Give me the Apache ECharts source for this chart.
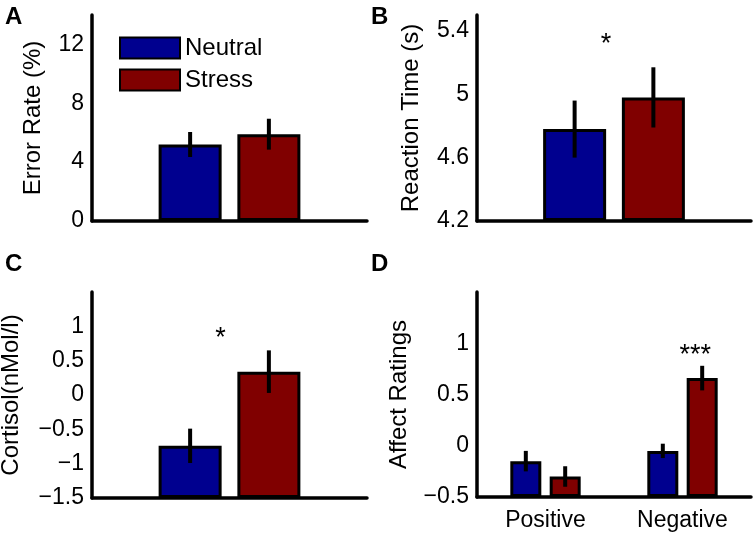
<!DOCTYPE html>
<html>
<head>
<meta charset="utf-8">
<script src="https://cdn.jsdelivr.net/npm/echarts@6/dist/echarts.min.js"></script>
<style>html,body{margin:0;padding:0;background:#fff}#main{width:756px;height:537px}</style>
</head>
<body>
<div id="main"></div>
<script>
var groups = ['Neutral', 'Stress'];
var colors = ['#00008f', '#800000'];

// A: error rate (%)
var errMean = [5.2, 5.9];
var errSE = [0.85, 1.05];
var errTicks = [0, 4, 8, 12];

// B: reaction time (s)
var rtMean = [4.78, 4.98];
var rtSE = [0.18, 0.19];
var rtTicks = [4.2, 4.6, 5, 5.4];

// C: cortisol
var cortMean = [-0.74, 0.34];
var cortSE = [0.25, 0.31];
var cortTicks = [-1.5, -1, -0.5, 0, 0.5, 1];

// D: affect ratings
var affectCats = ['Positive', 'Negative'];
var affNeutral = [-0.15, -0.05];
var affNeutralSE = [0.1, 0.07];
var affStress = [-0.30, 0.66];
var affStressSE = [0.1, 0.12];
var affectTicks = [-0.5, 0, 0.5, 1];

// significance marks
var sigText = ['*', '*', '***'];
var sigY = [5.35, 0.91, 0.94];

var font = '"Liberation Sans", Arial, Helvetica, sans-serif';
var myChart = echarts.init(document.getElementById('main'));

var wide = 63, wideGap = 0.25;   // panels A-C
var thin = 31, thinGap = 0.27;   // panel D
var offWide = wide * (1 + wideGap) / 2;
var offThin = thin * (1 + thinGap) / 2;

function fmt(v) {
    return String(Math.round(v * 100) / 100).replace('-', '\u2212');
}

function yAx(i, name, min, max, ticks, gap) {
    return {
        type: 'value', gridIndex: i, min: min, max: max, startValue: min,
        name: name, nameLocation: 'middle', nameGap: gap,
        nameTextStyle: {fontSize: 24, color: '#000', fontFamily: font},
        axisLine: {show: true, onZero: false, lineStyle: {color: '#000', width: 3.5}},
        axisTick: {show: false},
        splitLine: {show: false},
        axisLabel: {customValues: ticks, formatter: fmt, fontSize: 23, color: '#000', fontFamily: font, margin: 8}
    };
}

function xAx(i, cats, showLabel) {
    return {
        type: 'category', gridIndex: i, data: cats,
        axisLine: {show: true, onZero: false, lineStyle: {color: '#000', width: 3.5}},
        axisTick: {show: false},
        splitLine: {show: false},
        axisLabel: {show: showLabel, fontSize: 23, color: '#000', fontFamily: font, margin: 12}
    };
}

function bars(i, k, data, w, gap) {
    return {
        type: 'bar', name: groups[k], xAxisIndex: i, yAxisIndex: i, data: data,
        barWidth: w, barGap: (gap * 100) + '%',
        itemStyle: {color: colors[k], borderColor: '#000', borderWidth: 3},
        z: 2
    };
}

function errBars(i, means, ses, dx) {
    return {
        type: 'custom', xAxisIndex: i, yAxisIndex: i, z: 5, silent: true,
        data: means.map(function(m, k) { return [k, m, ses[k]]; }),
        renderItem: function(params, api) {
            var lo = api.coord([api.value(0), api.value(1) - api.value(2)]);
            var hi = api.coord([api.value(0), api.value(1) + api.value(2)]);
            return {type: 'line', shape: {x1: lo[0] + dx, y1: lo[1], x2: hi[0] + dx, y2: hi[1]},
                    style: {stroke: '#000', lineWidth: 4}};
        }
    };
}

function stars(i, cat, y, dx, txt) {
    return {
        type: 'custom', xAxisIndex: i, yAxisIndex: i, z: 6, silent: true,
        data: [[cat, y]],
        renderItem: function(params, api) {
            var c = api.coord([api.value(0), api.value(1)]);
            return {type: 'text', x: c[0] + dx, y: c[1] + 6,
                    style: {text: txt, fontSize: 27, fill: '#000', align: 'center', verticalAlign: 'middle', fontFamily: font}};
        }
    };
}

var letterStyle = {fontSize: 24, fontWeight: 'bold', color: '#000', fontFamily: font};

var option = {
    animation: false,
    backgroundColor: '#fff',
    title: [
        {text: 'A', left: 5, top: 5, padding: 0, textStyle: letterStyle},
        {text: 'B', left: 371, top: 5, padding: 0, textStyle: letterStyle},
        {text: 'C', left: 5, top: 252, padding: 0, textStyle: letterStyle},
        {text: 'D', left: 371, top: 252, padding: 0, textStyle: letterStyle}
    ],
    legend: {
        data: groups, orient: 'vertical', left: 114, top: 31,
        itemWidth: 60, itemHeight: 21, itemGap: 8, icon: 'rect',
        textStyle: {fontSize: 24, color: '#000', fontFamily: font}
    },
    grid: [
        {left: 92, top: 15, width: 275, height: 206, outerBoundsMode: 'none'},
        {left: 477, top: 15, width: 274, height: 206, outerBoundsMode: 'none'},
        {left: 92, top: 292, width: 275, height: 206, outerBoundsMode: 'none'},
        {left: 477, top: 292, width: 274, height: 205, outerBoundsMode: 'none'}
    ],
    xAxis: [
        xAx(0, [''], false),
        xAx(1, [''], false),
        xAx(2, [''], false),
        xAx(3, affectCats, true)
    ],
    yAxis: [
        yAx(0, 'Error Rate (%)', 0, 14, errTicks, 47),
        yAx(1, 'Reaction Time (s)', 4.2, 5.5, rtTicks, 54),
        yAx(2, 'Cortisol(nMol/l)', -1.5, 1.5, cortTicks, 69),
        yAx(3, 'Affect Ratings', -0.5, 1.5, affectTicks, 66)
    ],
    series: [
        bars(0, 0, [errMean[0]], wide, wideGap),
        bars(0, 1, [errMean[1]], wide, wideGap),
        errBars(0, [errMean[0]], [errSE[0]], -offWide),
        errBars(0, [errMean[1]], [errSE[1]], offWide),

        bars(1, 0, [rtMean[0]], wide, wideGap),
        bars(1, 1, [rtMean[1]], wide, wideGap),
        errBars(1, [rtMean[0]], [rtSE[0]], -offWide),
        errBars(1, [rtMean[1]], [rtSE[1]], offWide),
        stars(1, 0, sigY[0], -8, sigText[0]),

        bars(2, 0, [cortMean[0]], wide, wideGap),
        bars(2, 1, [cortMean[1]], wide, wideGap),
        errBars(2, [cortMean[0]], [cortSE[0]], -offWide),
        errBars(2, [cortMean[1]], [cortSE[1]], offWide),
        stars(2, 0, sigY[1], -9, sigText[1]),

        bars(3, 0, affNeutral, thin, thinGap),
        bars(3, 1, affStress, thin, thinGap),
        errBars(3, affNeutral, affNeutralSE, -offThin),
        errBars(3, affStress, affStressSE, offThin),
        stars(3, 1, sigY[2], offThin - 7, sigText[2])
    ]
};

myChart.setOption(option);
</script>
</body>
</html>
